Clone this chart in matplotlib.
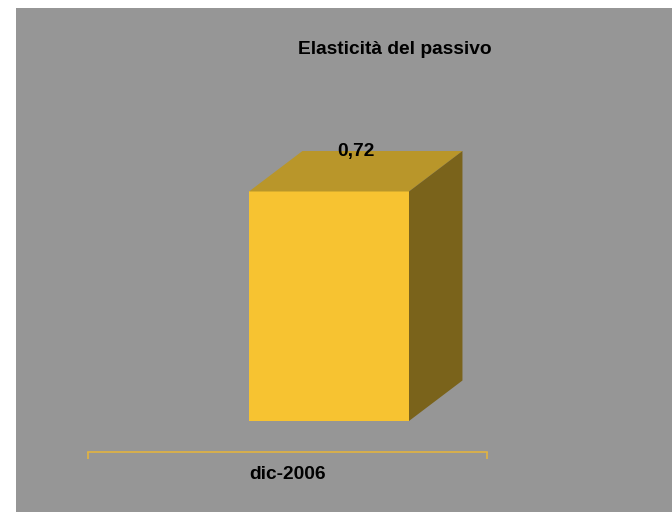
import matplotlib
matplotlib.use("Agg")
import matplotlib.pyplot as plt
from matplotlib.patches import Polygon

# data
categories = ["dic-2006"]
values = [0.72]
value_labels = ["0,72"]
title = "Elasticità del passivo"

plt.rcParams["font.family"] = ["Liberation Sans", "DejaVu Sans"]

W, H = 672, 512
fig = plt.figure(figsize=(W / 100, H / 100), dpi=100, facecolor="white")

# grey chart area
bg = fig.add_axes([16 / W, 0, (W - 16) / W, (H - 8) / H])
bg.set_facecolor("#969696")
bg.set_xticks([])
bg.set_yticks([])
for s in bg.spines.values():
  s.set_visible(False)

# plot axes: x spans 88..487 px, bottom spine at y=452 px
ymin, ymax = -0.0973, 1.0
px_per_unit = (421 - 191.5) / 0.72
ax_h = (ymax - ymin) * px_per_unit
ax = fig.add_axes([88 / W, (H - 452) / H, (487 - 88) / W, ax_h / H])
ax.patch.set_alpha(0)
ax.set_xlim(-0.5, 0.5)
ax.set_ylim(ymin, ymax)

front = "#F7C331"
top = "#B9962A"
side = "#7A631B"

bar_w = 0.401
bar_off = 0.104
dx, dy = 0.134, 0.127  # 3D depth in data units

for i, (cat, v, lab) in enumerate(zip(categories, values, value_labels)):
  x0 = i + bar_off - bar_w / 2
  x1 = x0 + bar_w
  ax.bar(i + bar_off, v, width=bar_w, bottom=0, color=front, zorder=3)
  ax.add_patch(Polygon([(x0, v), (x1, v), (x1 + dx, v + dy), (x0 + dx, v + dy)],
                       closed=True, facecolor=top, edgecolor="none", zorder=3))
  ax.add_patch(Polygon([(x1, 0), (x1 + dx, dy), (x1 + dx, v + dy), (x1, v)],
                       closed=True, facecolor=side, edgecolor="none", zorder=3))
  ax.text(x0 + dx + 0.135, v + dy - 0.003, lab, ha="center", va="center",
          fontsize=13.8, fontweight="bold", color="black", zorder=4)

ax.set_yticks([])
for s in ["top", "left", "right"]:
  ax.spines[s].set_visible(False)
ax.spines["bottom"].set_color("#E2B440")
ax.spines["bottom"].set_linewidth(1.2)
ax.spines["bottom"].set_position(("data", ymin))
ax.set_xticks([-0.5, 0.5])
ax.set_xticklabels([])
ax.tick_params(axis="x", which="major", length=5, width=1.2, color="#E2B440", direction="out")
ax.set_xticks(range(len(categories)), minor=True)
ax.set_xticklabels(categories, minor=True)
ax.tick_params(axis="x", which="minor", length=0, pad=10, labelsize=13.8, labelcolor="black")
for t in ax.get_xticklabels(minor=True):
  t.set_fontweight("bold")

fig.text(395 / W, 1 - 50 / H, title, ha="center", va="center",
         fontsize=13.8, fontweight="bold", color="black")

fig.savefig("out.png", dpi=100, facecolor="white")
